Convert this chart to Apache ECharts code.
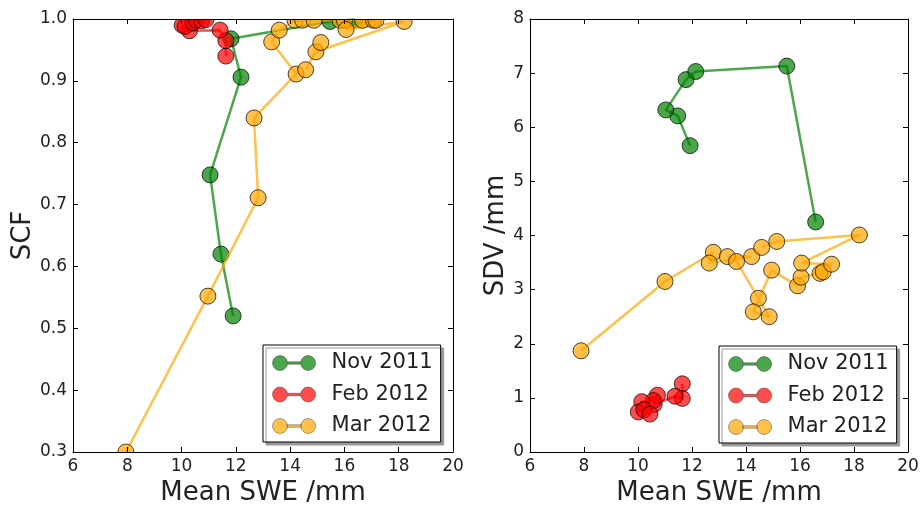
<!DOCTYPE html>
<html>
<head>
<meta charset="utf-8">
<script src="https://cdn.jsdelivr.net/npm/echarts@6/dist/echarts.min.js"></script>
<style>
html,body{margin:0;padding:0;background:#fff;}
#c{width:923px;height:506px;}
</style>
</head>
<body>
<div id="c"></div>
<script>
// ---- data ----
const seriesNames = ['Nov 2011', 'Feb 2012', 'Mar 2012'];
const xTicks = [6, 8, 10, 12, 14, 16, 18, 20];
const scfTicks = [0.3, 0.4, 0.5, 0.6, 0.7, 0.8, 0.9, 1.0];
const sdvTicks = [0, 1, 2, 3, 4, 5, 6, 7, 8];

// Left panel: Mean SWE vs SCF
const novSweL = [11.9, 11.45, 11.05, 12.19, 11.82, 15.47, 16.4];
const novScf  = [0.52, 0.62, 0.748, 0.906, 0.968, 0.996, 0.999];
const febSweL = [11.63, 11.63, 11.42, 10.29, 10.02, 10.13, 10.43, 10.55, 10.74, 10.9];
const febScf  = [0.940, 0.965, 0.982, 0.981, 0.990, 0.988, 0.994, 0.998, 0.997, 0.999];
const marSweL = [7.95, 10.97, 12.82, 12.67, 14.22, 13.32, 13.6, 14.18, 14.46, 14.88, 15.84, 16.0, 16.67, 17.07, 17.16, 16.06, 18.2, 14.95, 14.57, 15.13];
const marScf  = [0.30, 0.552, 0.711, 0.84, 0.911, 0.963, 0.982, 0.998, 0.998, 0.998, 0.998, 0.998, 0.998, 0.998, 0.998, 0.983, 0.996, 0.947, 0.918, 0.962];

// Right panel: Mean SWE vs SDV
const novSweR = [11.93, 11.47, 11.03, 11.78, 12.14, 15.51, 16.58];
const novSdv  = [5.66, 6.21, 6.32, 6.88, 7.03, 7.13, 4.25];
const febSweR = [11.64, 11.64, 11.37, 10.6, 10.72, 10.57, 10.14, 10.01, 10.22, 10.44];
const febSdv  = [1.26, 0.99, 1.03, 0.88, 1.05, 0.95, 0.93, 0.74, 0.78, 0.70];
const marSweR = [7.89, 11.0, 12.79, 12.64, 14.21, 13.31, 13.65, 14.46, 14.86, 14.27, 14.95, 15.91, 16.04, 16.74, 16.86, 17.17, 16.06, 18.2, 15.14, 14.58];
const marSdv  = [1.87, 3.15, 3.69, 3.49, 3.61, 3.61, 3.52, 2.84, 2.50, 2.59, 3.36, 3.07, 3.23, 3.30, 3.33, 3.47, 3.49, 4.01, 3.89, 3.78];

// ---- layout / style ----
const colors = ['#008000', '#ff0000', '#ffa500'];
const FONT = 'DejaVu Sans';
const TXT = '#222';
const G1 = {left: 73, top: 19, width: 380, height: 433};
const G2 = {left: 530, top: 19, width: 378, height: 433};

function zip(a, b) { return a.map((v, i) => [v, b[i]]); }

const chart = echarts.init(document.getElementById('c'), null, {renderer: 'canvas'});

function xAxisDef(gi, pos, show) {
  return {
    type: 'value', gridIndex: gi, position: pos, min: xTicks[0], max: xTicks[xTicks.length - 1], interval: 2,
    z: 10,
    axisLine: {show: true, onZero: false, lineStyle: {color: '#000', width: 1}},
    axisTick: {show: true, inside: true, length: 5, lineStyle: {color: '#000'}},
    splitLine: {show: false},
    axisLabel: {show: show, margin: 6, fontFamily: FONT, fontSize: 17, color: TXT},
    name: show ? 'Mean SWE /mm' : '', nameLocation: 'middle', nameGap: 25,
    nameTextStyle: {fontFamily: FONT, fontSize: 26, color: TXT}
  };
}
function yAxisDef(gi, pos, show, ticks, interval, name, gap, fmt) {
  return {
    type: 'value', gridIndex: gi, position: pos, min: ticks[0], max: ticks[ticks.length - 1], interval: interval,
    z: 10,
    axisLine: {show: true, onZero: false, lineStyle: {color: '#000', width: 1}},
    axisTick: {show: true, inside: true, length: 5, lineStyle: {color: '#000'}},
    splitLine: {show: false},
    axisLabel: {show: show, margin: 6, fontFamily: FONT, fontSize: 17, color: TXT, formatter: fmt},
    name: show ? name : '', nameLocation: 'middle', nameGap: gap,
    nameTextStyle: {fontFamily: FONT, fontSize: 26, color: TXT}
  };
}

function lineSeries(name, idx, data, axisIdx) {
  return {
    name: name, type: 'line', xAxisIndex: axisIdx, yAxisIndex: axisIdx, data: data,
    symbol: 'none', showSymbol: false, z: 2 + idx * 0.1, clip: true,
    lineStyle: {color: colors[idx], width: 2.5, opacity: 0.7},
    itemStyle: {color: colors[idx], opacity: 0.7},
    emphasis: {disabled: true}, animation: false
  };
}

// markers drawn as a custom series so they are clipped by the plot box (like matplotlib)
function markerSeries(name, idx, data, axisIdx) {
  return {
    name: name, type: 'custom', xAxisIndex: axisIdx, yAxisIndex: axisIdx, data: data,
    encode: {x: 0, y: 1}, z: 2.05 + idx * 0.1, animation: false, silent: true,
    renderItem: function (params, api) {
      const p = api.coord([api.value(0), api.value(1)]);
      const cs = params.coordSys;
      return {
        type: 'circle',
        shape: {cx: p[0], cy: p[1], r: 8},
        style: {fill: colors[idx], stroke: '#000', lineWidth: 1, opacity: 0.7},
        clipPath: {type: 'rect', shape: {x: cs.x, y: cs.y, width: cs.width, height: cs.height}}
      };
    }
  };
}

const icon = 'path://M0,8a8,8 0 1,0 16,0a8,8 0 1,0 -16,0ZM30,8a8,8 0 1,0 16,0a8,8 0 1,0 -16,0ZM15,6.7L31,6.7L31,9.3L15,9.3Z';

function legendDef(left, top) {
  return {
    left: left, top: top, orient: 'vertical', data: seriesNames, icon: icon,
    itemWidth: 45, itemHeight: 15, itemGap: 9.5, padding: [7, 8, 5, 9],
    backgroundColor: '#fff', borderColor: '#000', borderWidth: 1, borderRadius: 0,
    shadowColor: '#999', shadowBlur: 0, shadowOffsetX: 3, shadowOffsetY: 3,
    itemStyle: {borderColor: 'rgba(0,0,0,0.45)', borderWidth: 1, opacity: 0.7},
    textStyle: {fontFamily: FONT, fontSize: 21, color: TXT, lineHeight: 22, padding: [0, 0, 0, 10]},
    selectedMode: false, z: 20
  };
}

const option = {
  animation: false,
  backgroundColor: '#fff',
  grid: [
    Object.assign({containLabel: false, outerBoundsMode: 'none'}, G1),
    Object.assign({containLabel: false, outerBoundsMode: 'none'}, G2)
  ],
  xAxis: [
    xAxisDef(0, 'bottom', true), xAxisDef(0, 'top', false),
    xAxisDef(1, 'bottom', true), xAxisDef(1, 'top', false)
  ],
  yAxis: [
    yAxisDef(0, 'left', true, scfTicks, 0.1, 'SCF', 33, v => v.toFixed(1)), yAxisDef(0, 'right', false, scfTicks, 0.1, '', 0),
    yAxisDef(1, 'left', true, sdvTicks, 1, 'SDV /mm', 17, v => String(Math.round(v))), yAxisDef(1, 'right', false, sdvTicks, 1, '', 0)
  ],
  legend: [legendDef(263, 345), legendDef(719, 346)],
  series: [
    lineSeries(seriesNames[0], 0, zip(novSweL, novScf), 0),
    markerSeries(seriesNames[0], 0, zip(novSweL, novScf), 0),
    lineSeries(seriesNames[1], 1, zip(febSweL, febScf), 0),
    markerSeries(seriesNames[1], 1, zip(febSweL, febScf), 0),
    lineSeries(seriesNames[2], 2, zip(marSweL, marScf), 0),
    markerSeries(seriesNames[2], 2, zip(marSweL, marScf), 0),
    lineSeries(seriesNames[0], 0, zip(novSweR, novSdv), 2),
    markerSeries(seriesNames[0], 0, zip(novSweR, novSdv), 2),
    lineSeries(seriesNames[1], 1, zip(febSweR, febSdv), 2),
    markerSeries(seriesNames[1], 1, zip(febSweR, febSdv), 2),
    lineSeries(seriesNames[2], 2, zip(marSweR, marSdv), 2),
    markerSeries(seriesNames[2], 2, zip(marSweR, marSdv), 2)
  ]
};
chart.setOption(option);
</script>
</body>
</html>
